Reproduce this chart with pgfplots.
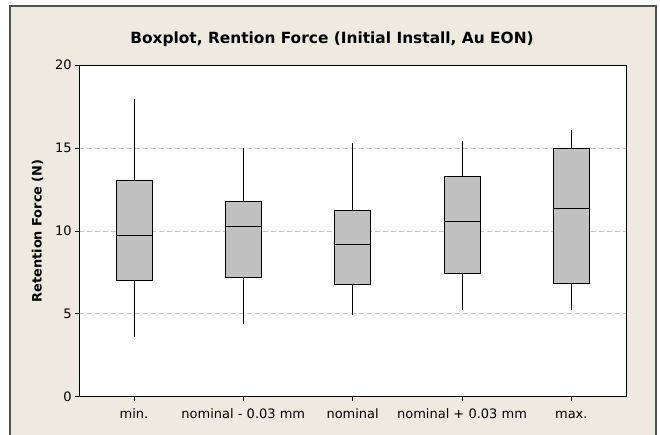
\documentclass[border=0pt]{standalone}
\usepackage{fontspec}
\setmainfont{DejaVu Sans}
\usepackage{pgfplots}
\pgfplotsset{compat=1.18}
\usepgfplotslibrary{statistics}
\definecolor{bgbeige}{RGB}{238,234,224}
\definecolor{boxgray}{RGB}{192,192,192}
\definecolor{gridgray}{RGB}{200,200,200}
\definecolor{framegray}{RGB}{80,80,80}
\begin{document}
\begin{tikzpicture}
\path[use as bounding box, fill=white] (0pt,0pt) rectangle (660pt,435pt);
\fill[bgbeige] (10pt,0pt) rectangle (656pt,429pt);
\draw[framegray, line width=1.2pt] (10pt,0pt) -- (10pt,429pt) -- (656pt,429pt) -- (656pt,0pt);
\node[anchor=base, font=\fontsize{15.4}{18}\selectfont\bfseries] at (332pt,391.7pt) {Boxplot, Rention Force (Initial Install, Au EON)};
\begin{axis}[
  at={(79.3pt,38.3pt)}, anchor=south west,
  scale only axis, width=546.7pt, height=331.7pt,
  xmin=-0.5, xmax=4.5, ymin=0, ymax=20,
  xtick={0,1,2,3,4},
  xticklabels={min., nominal - 0.03 mm, nominal, nominal + 0.03 mm, max.},
  ytick={0,5,10,15,20},
  tick align=outside, major tick length=4pt,
  xtick pos=left, ytick pos=left,
  tick style={black, line width=0.6pt},
  axis line style={black, line width=0.8pt},
  axis background/.style={fill=white},
  ymajorgrids, grid style={gridgray, dash pattern=on 5pt off 3pt, line width=0.6pt},
  /pgf/number format/assume math mode=true,
  every tick label/.append style={font=\fontsize{13}{15}\selectfont, black},
  xticklabel style={text height=9.5pt, text depth=2.5pt},
  xticklabel shift=4.5pt,
  ylabel={Retention Force (N)},
  ylabel style={font=\fontsize{12.9}{15}\selectfont\bfseries, at={(axis description cs:-0.0765,0.5)}, anchor=center, rotate=0},
  boxplot/draw direction=y,
  boxplot/box extend=0.33,
  boxplot/whisker extend=0,
]
\addplot[draw=black, fill=boxgray, line width=0.7pt, boxplot prepared={draw position=0, lower whisker=3.61, lower quartile=7.03, median=9.71, upper quartile=13.07, upper whisker=17.94}] coordinates {};
\addplot[draw=black, fill=boxgray, line width=0.7pt, boxplot prepared={draw position=1, lower whisker=4.41, lower quartile=7.19, median=10.25, upper quartile=11.8, upper whisker=15.0}] coordinates {};
\addplot[draw=black, fill=boxgray, line width=0.7pt, boxplot prepared={draw position=2, lower whisker=4.92, lower quartile=6.77, median=9.17, upper quartile=11.26, upper whisker=15.28}] coordinates {};
\addplot[draw=black, fill=boxgray, line width=0.7pt, boxplot prepared={draw position=3, lower whisker=5.2, lower quartile=7.41, median=10.55, upper quartile=13.27, upper whisker=15.4}] coordinates {};
\addplot[draw=black, fill=boxgray, line width=0.7pt, boxplot prepared={draw position=4, lower whisker=5.2, lower quartile=6.83, median=11.34, upper quartile=15.0, upper whisker=16.09}] coordinates {};
\end{axis}
\end{tikzpicture}
\end{document}
